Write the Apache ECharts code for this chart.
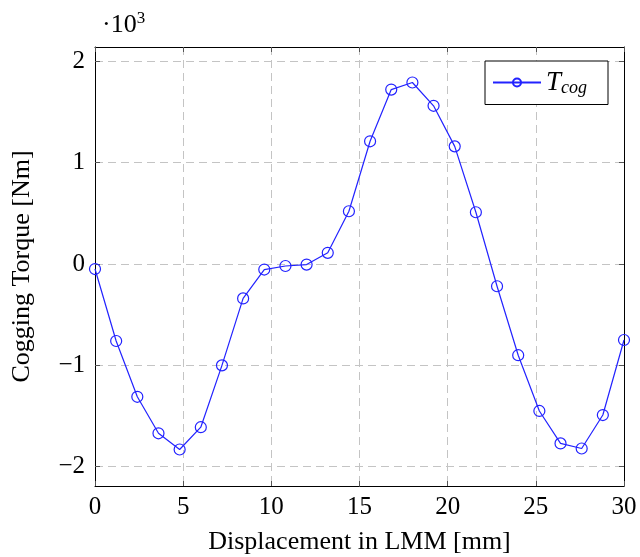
<!DOCTYPE html>
<html>
<head>
<meta charset="utf-8">
<style>
  html, body { margin: 0; padding: 0; background: #fff; }
  #chart { width: 640px; height: 557px; }
</style>
<script src="https://cdn.jsdelivr.net/npm/echarts@6/dist/echarts.min.js"></script>
</head>
<body>
<div id="chart"></div>
<script>
// Displacement in LMM [mm]
const displacement = [0, 1.2, 2.4, 3.6, 4.8, 6.0, 7.2, 8.4, 9.6, 10.8, 12.0, 13.2, 14.4,
  15.6, 16.8, 18.0, 19.2, 20.4, 21.6, 22.8, 24.0, 25.2, 26.4, 27.6, 28.8, 30.0];
// Cogging torque, in units of 10^3 Nm
const torque = [-0.05, -0.76, -1.31, -1.67, -1.83, -1.61, -1.00, -0.34, -0.055, -0.02, -0.006, 0.11, 0.52,
  1.21, 1.72, 1.79, 1.56, 1.16, 0.51, -0.22, -0.90, -1.45, -1.77, -1.82, -1.49, -0.75];
const yTicks = [-2, -1, 0, 1, 2];
const xTicks = [0, 5, 10, 15, 20, 25, 30];

const FONT = '"Liberation Serif", "DejaVu Serif", serif';
const fmt = v => String(v).replace('-', '\u2212');
const BLUE = '#2222ff';

const chart = echarts.init(document.getElementById('chart'), null, { renderer: 'canvas' });

const gridLine = { show: true, lineStyle: { color: '#c4c4c4', type: [8, 5], width: 1 } };
const tickStyle = { show: true, inside: true, length: 5, lineStyle: { color: '#555', width: 1 } };
const frameLine = { show: true, onZero: false, lineStyle: { color: '#000', width: 1 } };

const option = {
  animation: false,
  backgroundColor: '#fff',
  grid: { left: 95, right: 16, top: 47, bottom: 71, containLabel: false, outerBoundsMode: 'none' },
  legend: {
    left: 485, top: 61,
    padding: [8, 21, 7, 7],
    borderColor: '#000', borderWidth: 1, borderRadius: 0,
    backgroundColor: '#fff',
    itemWidth: 48, itemHeight: 10, itemGap: 0,
    data: ['T_cog'],
    formatter: () => '{t|T}{s|cog}',
    textStyle: {
      fontFamily: FONT,
      rich: {
        t: { fontFamily: FONT, fontStyle: 'italic', fontSize: 27, color: '#000' },
        s: { fontFamily: FONT, fontStyle: 'italic', fontSize: 18, color: '#000', verticalAlign: 'bottom', padding: [12, 0, 0, 0] }
      }
    }
  },
  xAxis: [
    {
      type: 'value', min: 0, max: 30, interval: 5, position: 'bottom',
      name: 'Displacement in LMM [mm]', nameLocation: 'middle', nameGap: 43,
      nameTextStyle: { fontFamily: FONT, fontSize: 26, color: '#000' },
      axisLine: frameLine, axisTick: tickStyle, splitLine: gridLine,
      axisLabel: { fontFamily: FONT, fontSize: 25, color: '#000', margin: 9, formatter: fmt,
                   customValues: xTicks }
    },
    {
      type: 'value', min: 0, max: 30, interval: 5, position: 'top',
      axisLine: frameLine, axisTick: tickStyle, splitLine: { show: false },
      axisLabel: { show: false }
    }
  ],
  yAxis: [
    {
      type: 'value', min: -2.19, max: 2.14, position: 'left',
      name: 'Cogging Torque [Nm]', nameLocation: 'middle', nameGap: 60,
      nameTextStyle: { fontFamily: FONT, fontSize: 26, color: '#000' },
      axisLine: frameLine,
      axisTick: Object.assign({}, tickStyle, { customValues: yTicks }),
      splitLine: gridLine,
      axisLabel: { fontFamily: FONT, fontSize: 25, color: '#000', margin: 10, formatter: fmt,
                   customValues: yTicks }
    },
    {
      type: 'value', min: -2.19, max: 2.14, position: 'right',
      axisLine: frameLine,
      axisTick: Object.assign({}, tickStyle, { customValues: yTicks }),
      splitLine: { show: false },
      axisLabel: { show: false, customValues: yTicks }
    }
  ],
  series: [
    {
      name: 'T_cog', type: 'line',
      xAxisIndex: 0, yAxisIndex: 0,
      data: displacement.map((x, i) => [x, torque[i]]),
      symbol: 'circle', symbolSize: 11, showAllSymbol: true,
      lineStyle: { color: BLUE, width: 1.2 },
      itemStyle: { color: 'rgba(0,0,0,0)', borderColor: BLUE, borderWidth: 1.2 },
      clip: false, z: 5
    }
  ],
  graphic: [
    {
      type: 'text', left: 102, top: 10,
      style: {
        text: '{a|\u00b710}{b|3}',
        rich: {
          a: { fontFamily: FONT, fontSize: 26, fill: '#000' },
          b: { fontFamily: FONT, fontSize: 17, fill: '#000', verticalAlign: 'top', padding: [0, 0, 13, 0] }
        }
      }
    }
  ]
};
chart.setOption(option);
</script>
</body>
</html>
